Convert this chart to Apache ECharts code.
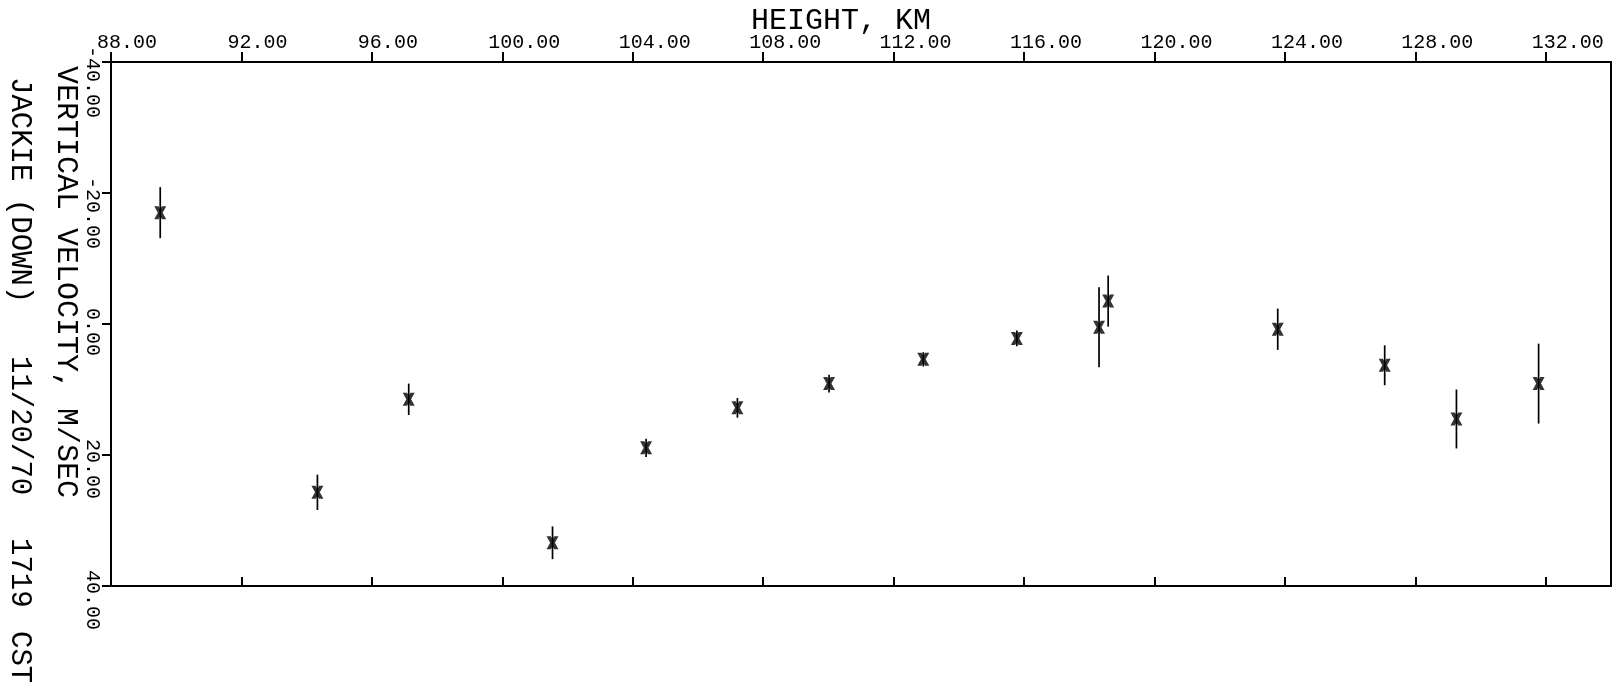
<!DOCTYPE html>
<html>
<head>
<meta charset="utf-8">
<script src="https://cdn.jsdelivr.net/npm/echarts@6/dist/echarts.min.js"></script>
<style>
html,body{margin:0;padding:0;background:#fff;}
#chart{width:1613px;height:683px;}
</style>
</head>
<body>
<div id="chart"></div>
<script>
// Data
const heights    = [89.51, 94.33, 97.13, 101.54, 104.41, 107.21, 110.02, 112.91, 115.78, 118.30, 118.58, 123.78, 127.06, 129.26, 131.78];
const velocities = [-17.0, 25.7, 11.5, 33.4, 18.9, 12.8, 9.1, 5.4, 2.2, 0.5, -3.5, 0.8, 6.3, 14.5, 9.1];
const errors     = [3.9, 2.7, 2.4, 2.5, 1.4, 1.5, 1.35, 1.1, 1.2, 6.1, 3.9, 3.15, 3.05, 4.5, 6.1];
const xTitle = 'HEIGHT, KM';
const yTitle = 'VERTICAL VELOCITY, M/SEC';
const captionParts = ['JACKIE (DOWN)', '11/20/70', '1719', 'CST'];

const FONT = 'Liberation Mono';
const points = heights.map((h, i) => [h, velocities[i]]);
const bars = heights.map((h, i) => [h, velocities[i] - errors[i], velocities[i] + errors[i]]);

const chart = echarts.init(document.getElementById('chart'), null, {renderer: 'canvas'});
const captionStarts = [77, 356, 538, 631];

chart.setOption({
  backgroundColor: '#ffffff',
  animation: false,
  grid: {left: 111, top: 62, right: 2, bottom: 97, show: true, borderColor: '#000', borderWidth: 2,
    backgroundColor: 'transparent', containLabel: false, outerBoundsMode: 'none'},
  xAxis: [{
    type: 'value', position: 'top', min: 88, max: 134, interval: 4,
    name: xTitle, nameLocation: 'middle', nameGap: 26, nameMoveOverlap: false,
    nameTextStyle: {fontFamily: FONT, fontSize: 30, color: '#000', padding: [0, 40, 0, 0]},
    axisLine: {show: true, onZero: false, lineStyle: {color: '#000', width: 2}},
    axisTick: {show: true, inside: false, length: 10, lineStyle: {color: '#000', width: 2}},
    axisLabel: {show: true, fontFamily: FONT, fontSize: 20, color: '#000', margin: 9, align: 'left',
      padding: [0, 0, 0, -14], formatter: v => v.toFixed(2)},
    splitLine: {show: false}
  }, {
    type: 'value', position: 'bottom', min: 88, max: 134, interval: 4,
    axisLine: {show: true, onZero: false, lineStyle: {color: '#000', width: 2}},
    axisTick: {show: true, inside: true, length: 9, lineStyle: {color: '#000', width: 2}},
    axisLabel: {show: false},
    splitLine: {show: false}
  }],
  yAxis: {
    type: 'value', inverse: true, min: -40, max: 40, interval: 20,
    name: yTitle, nameLocation: 'middle', nameGap: 45, nameRotate: -90, nameMoveOverlap: false,
    nameTextStyle: {fontFamily: FONT, fontSize: 30, color: '#000', padding: [0, 84, 0, 0],
      verticalAlign: 'middle'},
    axisLine: {show: true, onZero: false, lineStyle: {color: '#000', width: 2}},
    axisTick: {show: true, inside: false, length: 9, lineStyle: {color: '#000', width: 2}},
    axisLabel: {show: true, rotate: -90, fontFamily: FONT, fontSize: 20, color: '#000', margin: 19,
      align: 'left', verticalAlign: 'middle', padding: [0, 0, 0, -16], formatter: v => v.toFixed(2)},
    splitLine: {show: false}
  },
  graphic: captionParts.map((t, i) => ({
    type: 'text', x: 20, y: captionStarts[i], rotation: -Math.PI / 2,
    style: {text: t, font: '29px "' + FONT + '"', fill: '#000', align: 'left', verticalAlign: 'middle',
      textAlign: 'left', textVerticalAlign: 'middle'}
  })),
  series: [{
    type: 'custom',
    xAxisIndex: 0,
    data: bars,
    renderItem: function (params, api) {
      const x = api.value(0);
      const lo = api.coord([x, api.value(1)]);
      const hi = api.coord([x, api.value(2)]);
      return {type: 'line', shape: {x1: lo[0], y1: lo[1], x2: hi[0], y2: hi[1]},
        style: {stroke: '#000', lineWidth: 1.7}};
    },
    z: 2
  }, {
    type: 'scatter',
    xAxisIndex: 0,
    data: points,
    symbol: 'path://M0,0L3.6,0L5,2.4L6.4,0L10,0L7,5L10,10L6.4,10L5,7.6L3.6,10L0,10L3,5Z',
    symbolSize: [12, 13],
    itemStyle: {color: '#000'},
    z: 3
  }]
});
</script>
</body>
</html>
